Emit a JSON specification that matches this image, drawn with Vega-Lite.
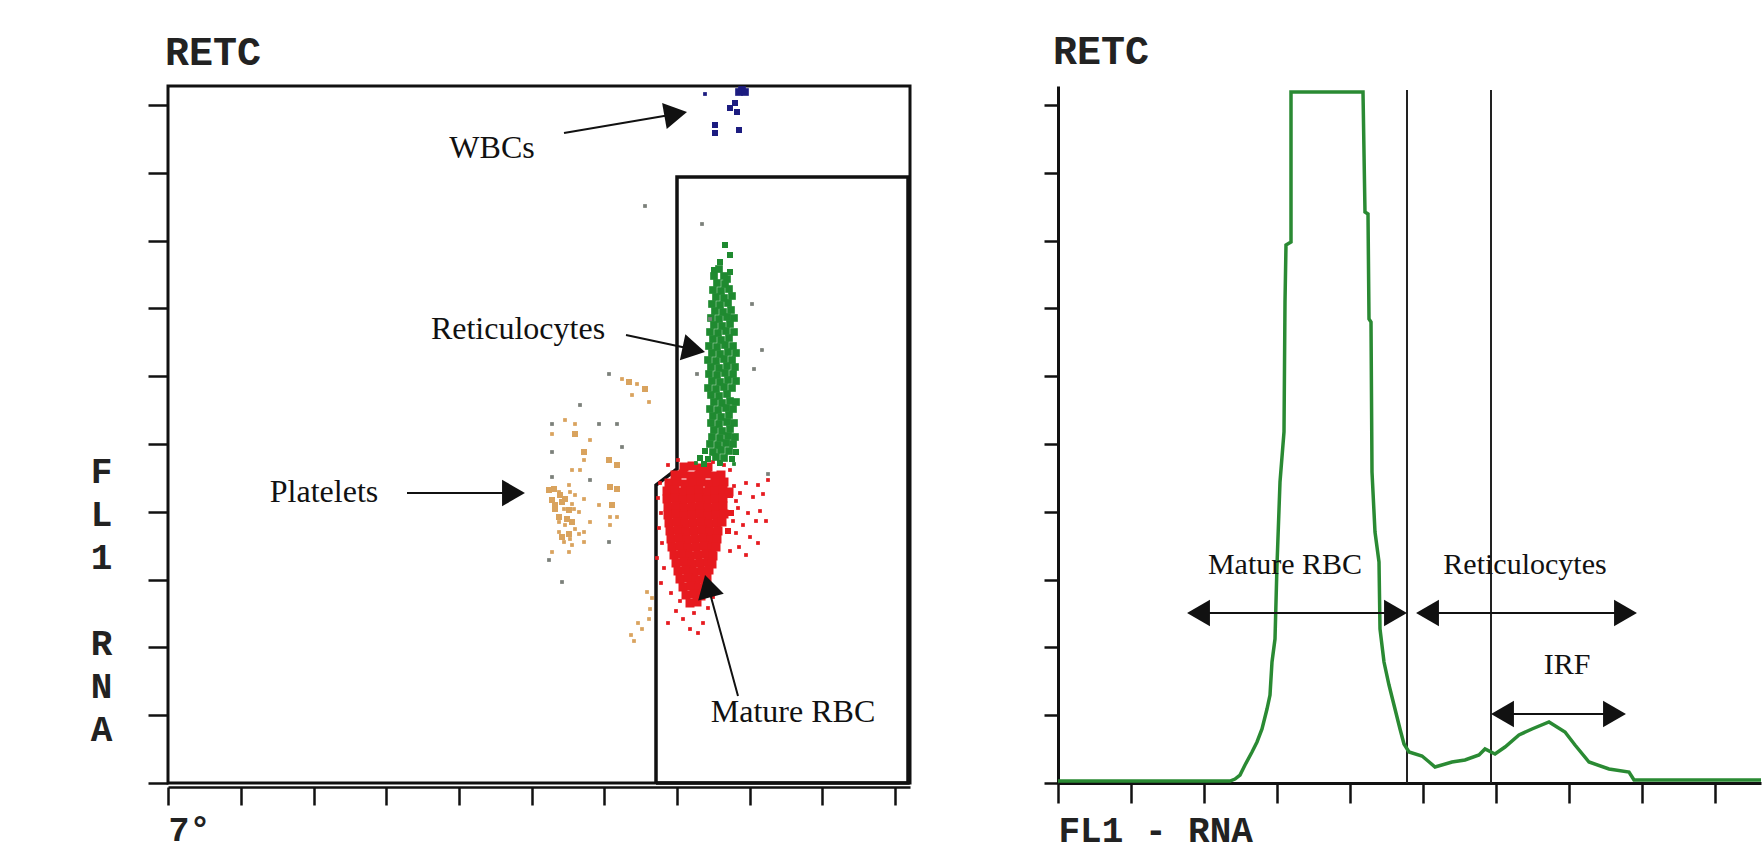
{
  "$schema": "https://vega.github.io/schema/vega-lite/v6.json",
  "background": "white",
  "padding": {"left": 86, "top": 31, "right": 0, "bottom": 6},
  "bounds": "flush",
  "spacing": 148,
  "config": {"view": {"stroke": null}},
  "datasets": {
    "gate": [
      {"i": 0, "x": 488, "y": 0}, {"i": 1, "x": 488, "y": 298}, {"i": 2, "x": 509, "y": 314},
      {"i": 3, "x": 509, "y": 606}, {"i": 4, "x": 740, "y": 606}, {"i": 5, "x": 740, "y": 0}, {"i": 6, "x": 488, "y": 0}
    ],
    "events": [
      {"p":"RBC","x":516,"y":316,"n":4},{"p":"RBC","x":524,"y":317,"n":4},{"p":"RBC","x":532,"y":315,"n":4},{"p":"RBC","x":540,"y":316,"n":4},
      {"p":"RBC","x":507,"y":308,"n":4},{"p":"RBC","x":515,"y":309,"n":4},{"p":"RBC","x":523,"y":307,"n":4},{"p":"RBC","x":531,"y":308,"n":4},{"p":"RBC","x":539,"y":309,"n":4},{"p":"RBC","x":547,"y":307,"n":4},{"p":"RBC","x":553,"y":308,"n":4},
      {"p":"RBC","x":501,"y":300,"n":4},{"p":"RBC","x":509,"y":301,"n":4},{"p":"RBC","x":517,"y":299,"n":4},{"p":"RBC","x":525,"y":300,"n":4},{"p":"RBC","x":533,"y":301,"n":4},{"p":"RBC","x":541,"y":299,"n":4},{"p":"RBC","x":549,"y":300,"n":4},{"p":"RBC","x":556,"y":301,"n":4},
      {"p":"RBC","x":499,"y":292,"n":4},{"p":"RBC","x":507,"y":293,"n":4},{"p":"RBC","x":515,"y":291,"n":4},{"p":"RBC","x":523,"y":292,"n":4},{"p":"RBC","x":531,"y":293,"n":4},{"p":"RBC","x":539,"y":291,"n":4},{"p":"RBC","x":547,"y":292,"n":4},{"p":"RBC","x":555,"y":293,"n":4},{"p":"RBC","x":561,"y":291,"n":4},
      {"p":"RBC","x":499,"y":284,"n":4},{"p":"RBC","x":507,"y":285,"n":4},{"p":"RBC","x":515,"y":283,"n":4},{"p":"RBC","x":523,"y":284,"n":4},{"p":"RBC","x":531,"y":285,"n":4},{"p":"RBC","x":539,"y":283,"n":4},{"p":"RBC","x":547,"y":284,"n":4},{"p":"RBC","x":555,"y":285,"n":4},
      {"p":"RBC","x":500,"y":276,"n":4},{"p":"RBC","x":508,"y":277,"n":4},{"p":"RBC","x":516,"y":275,"n":4},{"p":"RBC","x":524,"y":276,"n":4},{"p":"RBC","x":532,"y":277,"n":4},{"p":"RBC","x":540,"y":275,"n":4},{"p":"RBC","x":548,"y":276,"n":4},{"p":"RBC","x":555,"y":277,"n":4},
      {"p":"RBC","x":500,"y":268,"n":4},{"p":"RBC","x":508,"y":269,"n":4},{"p":"RBC","x":516,"y":267,"n":4},{"p":"RBC","x":524,"y":268,"n":4},{"p":"RBC","x":532,"y":269,"n":4},{"p":"RBC","x":540,"y":267,"n":4},{"p":"RBC","x":548,"y":268,"n":4},{"p":"RBC","x":556,"y":269,"n":4},
      {"p":"RBC","x":501,"y":260,"n":4},{"p":"RBC","x":509,"y":261,"n":4},{"p":"RBC","x":517,"y":259,"n":4},{"p":"RBC","x":525,"y":260,"n":4},{"p":"RBC","x":533,"y":261,"n":4},{"p":"RBC","x":541,"y":259,"n":4},{"p":"RBC","x":549,"y":260,"n":4},{"p":"RBC","x":554,"y":261,"n":4},
      {"p":"RBC","x":502,"y":252,"n":4},{"p":"RBC","x":510,"y":253,"n":4},{"p":"RBC","x":518,"y":251,"n":4},{"p":"RBC","x":526,"y":252,"n":4},{"p":"RBC","x":534,"y":253,"n":4},{"p":"RBC","x":542,"y":251,"n":4},{"p":"RBC","x":550,"y":252,"n":4},
      {"p":"RBC","x":503,"y":244,"n":4},{"p":"RBC","x":511,"y":245,"n":4},{"p":"RBC","x":519,"y":243,"n":4},{"p":"RBC","x":527,"y":244,"n":4},{"p":"RBC","x":535,"y":245,"n":4},{"p":"RBC","x":543,"y":243,"n":4},{"p":"RBC","x":549,"y":244,"n":4},
      {"p":"RBC","x":504,"y":236,"n":4},{"p":"RBC","x":512,"y":237,"n":4},{"p":"RBC","x":520,"y":235,"n":4},{"p":"RBC","x":528,"y":236,"n":4},{"p":"RBC","x":536,"y":237,"n":4},{"p":"RBC","x":544,"y":235,"n":4},{"p":"RBC","x":548,"y":236,"n":4},
      {"p":"RBC","x":506,"y":228,"n":4},{"p":"RBC","x":514,"y":229,"n":4},{"p":"RBC","x":522,"y":227,"n":4},{"p":"RBC","x":530,"y":228,"n":4},{"p":"RBC","x":538,"y":229,"n":4},{"p":"RBC","x":545,"y":227,"n":4},
      {"p":"RBC","x":508,"y":220,"n":4},{"p":"RBC","x":516,"y":221,"n":4},{"p":"RBC","x":524,"y":219,"n":4},{"p":"RBC","x":532,"y":220,"n":4},{"p":"RBC","x":540,"y":221,"n":4},{"p":"RBC","x":544,"y":219,"n":4},
      {"p":"RBC","x":510,"y":212,"n":4},{"p":"RBC","x":518,"y":213,"n":4},{"p":"RBC","x":526,"y":211,"n":4},{"p":"RBC","x":534,"y":212,"n":4},{"p":"RBC","x":541,"y":213,"n":4},
      {"p":"RBC","x":512,"y":204,"n":4},{"p":"RBC","x":520,"y":205,"n":4},{"p":"RBC","x":528,"y":203,"n":4},{"p":"RBC","x":536,"y":204,"n":4},{"p":"RBC","x":539,"y":205,"n":4},
      {"p":"RBC","x":515,"y":196,"n":4},{"p":"RBC","x":523,"y":197,"n":4},{"p":"RBC","x":531,"y":195,"n":4},{"p":"RBC","x":537,"y":196,"n":4},
      {"p":"RBC","x":518,"y":188,"n":4},{"p":"RBC","x":526,"y":189,"n":4},{"p":"RBC","x":533,"y":187,"n":4},
      {"p":"RBC","x":522,"y":180,"n":4},{"p":"RBC","x":529,"y":181,"n":4},
      {"p":"RBC","x":566,"y":297,"n":1},{"p":"RBC","x":578,"y":300,"n":1},{"p":"RBC","x":590,"y":298,"n":1},{"p":"RBC","x":600,"y":303,"n":1},{"p":"RBC","x":572,"y":290,"n":1},{"p":"RBC","x":585,"y":286,"n":1},{"p":"RBC","x":568,"y":282,"n":1},{"p":"RBC","x":595,"y":289,"n":1},{"p":"RBC","x":570,"y":275,"n":1},{"p":"RBC","x":580,"y":270,"n":1},{"p":"RBC","x":592,"y":272,"n":1},{"p":"RBC","x":565,"y":262,"n":1},{"p":"RBC","x":575,"y":258,"n":1},{"p":"RBC","x":588,"y":262,"n":1},{"p":"RBC","x":598,"y":262,"n":1},{"p":"RBC","x":568,"y":250,"n":1},{"p":"RBC","x":582,"y":246,"n":1},{"p":"RBC","x":571,"y":236,"n":1},{"p":"RBC","x":562,"y":232,"n":1},{"p":"RBC","x":590,"y":240,"n":1},{"p":"RBC","x":578,"y":228,"n":1},
      {"p":"RBC","x":562,"y":288,"n":2},{"p":"RBC","x":563,"y":270,"n":2},{"p":"RBC","x":560,"y":252,"n":2},
      {"p":"RBC","x":492,"y":300,"n":1},{"p":"RBC","x":490,"y":285,"n":1},{"p":"RBC","x":493,"y":270,"n":1},{"p":"RBC","x":491,"y":255,"n":1},{"p":"RBC","x":494,"y":240,"n":1},{"p":"RBC","x":489,"y":225,"n":1},{"p":"RBC","x":496,"y":215,"n":1},{"p":"RBC","x":493,"y":200,"n":1},
      {"p":"RBC","x":508,"y":172,"n":1},{"p":"RBC","x":515,"y":164,"n":1},{"p":"RBC","x":526,"y":170,"n":1},{"p":"RBC","x":535,"y":160,"n":1},{"p":"RBC","x":522,"y":154,"n":1},{"p":"RBC","x":540,"y":175,"n":1},{"p":"RBC","x":530,"y":150,"n":1},{"p":"RBC","x":512,"y":182,"n":1},{"p":"RBC","x":545,"y":186,"n":1},{"p":"RBC","x":503,"y":190,"n":1},{"p":"RBC","x":500,"y":160,"n":1},
      {"p":"RBC","x":500,"y":318,"n":1},{"p":"RBC","x":510,"y":323,"n":1},{"p":"RBC","x":545,"y":321,"n":1},{"p":"RBC","x":556,"y":318,"n":1},{"p":"RBC","x":562,"y":313,"n":1},
      {"p":"Retic","x":557,"y":538,"n":2},{"p":"Retic","x":562,"y":528,"n":2},{"p":"Retic","x":552,"y":521,"n":2},{"p":"Retic","x":562,"y":511,"n":2},{"p":"Retic","x":546,"y":513,"n":2},
      {"p":"Retic","x":551,"y":514,"n":3},{"p":"Retic","x":559,"y":504,"n":3},
      {"p":"Retic","x":546,"y":507,"n":3},{"p":"Retic","x":556,"y":507,"n":3},
      {"p":"Retic","x":549,"y":500,"n":3},{"p":"Retic","x":557,"y":499,"n":3},
      {"p":"Retic","x":545,"y":493,"n":3},{"p":"Retic","x":553,"y":492,"n":3},{"p":"Retic","x":561,"y":494,"n":3},
      {"p":"Retic","x":548,"y":486,"n":3},{"p":"Retic","x":556,"y":485,"n":3},{"p":"Retic","x":564,"y":487,"n":3},
      {"p":"Retic","x":544,"y":479,"n":3},{"p":"Retic","x":552,"y":478,"n":3},{"p":"Retic","x":560,"y":480,"n":3},
      {"p":"Retic","x":547,"y":472,"n":3},{"p":"Retic","x":555,"y":471,"n":3},{"p":"Retic","x":563,"y":473,"n":3},
      {"p":"Retic","x":543,"y":465,"n":3},{"p":"Retic","x":551,"y":464,"n":3},{"p":"Retic","x":559,"y":466,"n":3},{"p":"Retic","x":566,"y":465,"n":3},
      {"p":"Retic","x":546,"y":458,"n":3},{"p":"Retic","x":554,"y":457,"n":3},{"p":"Retic","x":562,"y":459,"n":3},
      {"p":"Retic","x":542,"y":451,"n":3},{"p":"Retic","x":550,"y":450,"n":3},{"p":"Retic","x":558,"y":452,"n":3},{"p":"Retic","x":566,"y":451,"n":3},
      {"p":"Retic","x":545,"y":444,"n":3},{"p":"Retic","x":553,"y":443,"n":3},{"p":"Retic","x":561,"y":445,"n":3},
      {"p":"Retic","x":541,"y":437,"n":3},{"p":"Retic","x":549,"y":436,"n":3},{"p":"Retic","x":557,"y":438,"n":3},{"p":"Retic","x":565,"y":437,"n":3},
      {"p":"Retic","x":544,"y":430,"n":3},{"p":"Retic","x":552,"y":429,"n":3},{"p":"Retic","x":560,"y":431,"n":3},{"p":"Retic","x":568,"y":430,"n":3},
      {"p":"Retic","x":540,"y":423,"n":3},{"p":"Retic","x":548,"y":422,"n":3},{"p":"Retic","x":556,"y":424,"n":3},{"p":"Retic","x":564,"y":423,"n":3},
      {"p":"Retic","x":543,"y":416,"n":3},{"p":"Retic","x":551,"y":415,"n":3},{"p":"Retic","x":559,"y":417,"n":3},{"p":"Retic","x":567,"y":416,"n":3},
      {"p":"Retic","x":541,"y":409,"n":3},{"p":"Retic","x":549,"y":408,"n":3},{"p":"Retic","x":557,"y":410,"n":3},{"p":"Retic","x":565,"y":409,"n":3},
      {"p":"Retic","x":544,"y":402,"n":3},{"p":"Retic","x":552,"y":401,"n":3},{"p":"Retic","x":560,"y":403,"n":3},{"p":"Retic","x":568,"y":402,"n":3},
      {"p":"Retic","x":540,"y":395,"n":3},{"p":"Retic","x":548,"y":394,"n":3},{"p":"Retic","x":556,"y":396,"n":3},{"p":"Retic","x":564,"y":395,"n":3},
      {"p":"Retic","x":543,"y":388,"n":3},{"p":"Retic","x":551,"y":387,"n":3},{"p":"Retic","x":559,"y":389,"n":3},
      {"p":"Retic","x":546,"y":381,"n":3},{"p":"Retic","x":554,"y":380,"n":3},{"p":"Retic","x":562,"y":382,"n":3},{"p":"Retic","x":568,"y":381,"n":3},
      {"p":"Retic","x":542,"y":374,"n":3},{"p":"Retic","x":550,"y":373,"n":3},{"p":"Retic","x":558,"y":375,"n":3},{"p":"Retic","x":565,"y":374,"n":3},
      {"p":"Retic","x":545,"y":367,"n":3},{"p":"Retic","x":553,"y":366,"n":3},{"p":"Retic","x":561,"y":368,"n":3},
      {"p":"Retic","x":543,"y":360,"n":3},{"p":"Retic","x":551,"y":359,"n":3},{"p":"Retic","x":559,"y":361,"n":3},{"p":"Retic","x":566,"y":360,"n":3},
      {"p":"Retic","x":546,"y":353,"n":3},{"p":"Retic","x":554,"y":352,"n":3},{"p":"Retic","x":562,"y":354,"n":3},
      {"p":"Retic","x":544,"y":346,"n":3},{"p":"Retic","x":552,"y":345,"n":3},{"p":"Retic","x":560,"y":347,"n":3},{"p":"Retic","x":567,"y":346,"n":3},
      {"p":"Retic","x":542,"y":339,"n":3},{"p":"Retic","x":550,"y":338,"n":3},{"p":"Retic","x":558,"y":340,"n":3},{"p":"Retic","x":565,"y":339,"n":3},
      {"p":"Retic","x":537,"y":332,"n":2},{"p":"Retic","x":545,"y":331,"n":3},{"p":"Retic","x":553,"y":333,"n":3},{"p":"Retic","x":561,"y":332,"n":3},{"p":"Retic","x":568,"y":331,"n":2},
      {"p":"Retic","x":532,"y":325,"n":2},{"p":"Retic","x":540,"y":324,"n":2},{"p":"Retic","x":548,"y":326,"n":3},{"p":"Retic","x":556,"y":325,"n":3},{"p":"Retic","x":564,"y":324,"n":2},
      {"p":"Retic","x":528,"y":320,"n":1},{"p":"Retic","x":536,"y":319,"n":2},{"p":"Retic","x":552,"y":320,"n":2},{"p":"Retic","x":566,"y":319,"n":1},
      {"p":"WBC","x":571,"y":691,"n":3},{"p":"WBC","x":574,"y":693,"n":3},{"p":"WBC","x":577,"y":691,"n":3},{"p":"WBC","x":537,"y":689,"n":1},{"p":"WBC","x":567,"y":680,"n":2},{"p":"WBC","x":562,"y":675,"n":2},{"p":"WBC","x":569,"y":671,"n":2},{"p":"WBC","x":547,"y":658,"n":2},{"p":"WBC","x":547,"y":650,"n":2},{"p":"WBC","x":571,"y":653,"n":2},
      {"p":"Other","x":534,"y":559,"n":1},{"p":"Other","x":584,"y":479,"n":1},{"p":"Other","x":594,"y":433,"n":1},{"p":"Other","x":586,"y":414,"n":1},{"p":"Other","x":529,"y":409,"n":1},{"p":"Other","x":542,"y":464,"n":1},{"p":"Other","x":477,"y":577,"n":1},{"p":"Other","x":600,"y":309,"n":1},
      {"p":"Other","x":412,"y":378,"n":1},{"p":"Other","x":384,"y":359,"n":1},{"p":"Other","x":431,"y":359,"n":1},{"p":"Other","x":449,"y":359,"n":1},{"p":"Other","x":384,"y":331,"n":1},{"p":"Other","x":454,"y":336,"n":1},{"p":"Other","x":422,"y":303,"n":1},{"p":"Other","x":384,"y":306,"n":1},{"p":"Other","x":381,"y":223,"n":1},{"p":"Other","x":394,"y":201,"n":1},{"p":"Other","x":441,"y":241,"n":1},{"p":"Other","x":441,"y":409,"n":1},
      {"p":"PLT","x":454,"y":404,"n":1},{"p":"PLT","x":461,"y":401,"n":2},{"p":"PLT","x":469,"y":399,"n":1},{"p":"PLT","x":477,"y":394,"n":2},{"p":"PLT","x":464,"y":388,"n":1},{"p":"PLT","x":481,"y":381,"n":1},
      {"p":"PLT","x":397,"y":363,"n":1},{"p":"PLT","x":407,"y":359,"n":1},{"p":"PLT","x":384,"y":349,"n":1},{"p":"PLT","x":407,"y":349,"n":2},{"p":"PLT","x":422,"y":343,"n":1},{"p":"PLT","x":416,"y":331,"n":2},
      {"p":"PLT","x":441,"y":323,"n":2},{"p":"PLT","x":449,"y":318,"n":2},{"p":"PLT","x":416,"y":323,"n":1},{"p":"PLT","x":404,"y":313,"n":1},{"p":"PLT","x":412,"y":313,"n":1},
      {"p":"PLT","x":442,"y":296,"n":2},{"p":"PLT","x":449,"y":294,"n":2},{"p":"PLT","x":381,"y":293,"n":2},{"p":"PLT","x":391,"y":291,"n":1},{"p":"PLT","x":401,"y":298,"n":1},{"p":"PLT","x":407,"y":288,"n":1},
      {"p":"PLT","x":384,"y":283,"n":2},{"p":"PLT","x":394,"y":281,"n":2},{"p":"PLT","x":404,"y":279,"n":1},{"p":"PLT","x":416,"y":284,"n":1},{"p":"PLT","x":431,"y":278,"n":1},{"p":"PLT","x":444,"y":278,"n":2},
      {"p":"PLT","x":387,"y":274,"n":2},{"p":"PLT","x":401,"y":273,"n":2},{"p":"PLT","x":411,"y":271,"n":1},{"p":"PLT","x":422,"y":261,"n":1},{"p":"PLT","x":442,"y":266,"n":1},{"p":"PLT","x":449,"y":266,"n":1},
      {"p":"PLT","x":391,"y":266,"n":2},{"p":"PLT","x":397,"y":258,"n":1},{"p":"PLT","x":404,"y":261,"n":2},{"p":"PLT","x":442,"y":258,"n":1},{"p":"PLT","x":391,"y":251,"n":1},{"p":"PLT","x":401,"y":249,"n":2},
      {"p":"PLT","x":416,"y":251,"n":1},{"p":"PLT","x":396,"y":241,"n":1},{"p":"PLT","x":404,"y":238,"n":1},{"p":"PLT","x":416,"y":241,"n":1},{"p":"PLT","x":384,"y":231,"n":1},{"p":"PLT","x":401,"y":231,"n":1},
      {"p":"PLT","x":386,"y":294,"n":2},{"p":"PLT","x":392,"y":288,"n":2},{"p":"PLT","x":397,"y":284,"n":2},{"p":"PLT","x":402,"y":291,"n":1},{"p":"PLT","x":387,"y":278,"n":2},{"p":"PLT","x":396,"y":274,"n":1},
      {"p":"PLT","x":406,"y":274,"n":1},{"p":"PLT","x":391,"y":261,"n":1},{"p":"PLT","x":399,"y":264,"n":2},{"p":"PLT","x":407,"y":254,"n":1},{"p":"PLT","x":394,"y":246,"n":2},{"p":"PLT","x":402,"y":244,"n":1},{"p":"PLT","x":411,"y":249,"n":1},
      {"p":"PLT","x":479,"y":191,"n":1},{"p":"PLT","x":482,"y":174,"n":1},{"p":"PLT","x":481,"y":164,"n":1},{"p":"PLT","x":474,"y":154,"n":1},{"p":"PLT","x":463,"y":148,"n":1},{"p":"PLT","x":484,"y":185,"n":1},{"p":"PLT","x":470,"y":160,"n":1},{"p":"PLT","x":466,"y":142,"n":1}
    ],
    "leftArrows": [
      {"x": 396, "y": 650, "x2": 507.7, "y2": 669},
      {"x": 458, "y": 448, "x2": 525.8, "y2": 433.4},
      {"x": 239, "y": 290, "x2": 345.5, "y2": 290},
      {"x": 570, "y": 87, "x2": 540, "y2": 197}
    ],
    "leftLabels": [
      {"x": 324, "y": 635, "label": "WBCs"},
      {"x": 350, "y": 454, "label": "Reticulocytes"},
      {"x": 156, "y": 291, "label": "Platelets"},
      {"x": 625, "y": 71, "label": "Mature RBC"}
    ],
    "hist": [
      {"i":0,"x":0,"y":2},{"i":1,"x":172,"y":2},{"i":2,"x":177,"y":4},{"i":3,"x":182,"y":8},{"i":4,"x":187,"y":18},
      {"i":5,"x":194,"y":31},{"i":6,"x":199,"y":41},{"i":7,"x":204,"y":54},{"i":8,"x":209,"y":74},{"i":9,"x":212,"y":88},
      {"i":10,"x":214,"y":121},{"i":11,"x":217,"y":144},{"i":12,"x":219,"y":218},{"i":13,"x":222,"y":301},{"i":14,"x":226,"y":351},
      {"i":15,"x":227,"y":481},{"i":16,"x":228,"y":538},{"i":17,"x":233,"y":541},{"i":18,"x":233,"y":691},{"i":19,"x":305,"y":691},
      {"i":20,"x":307,"y":571},{"i":21,"x":310,"y":569},{"i":22,"x":311,"y":464},{"i":23,"x":313,"y":461},{"i":24,"x":314,"y":311},
      {"i":25,"x":317,"y":251},{"i":26,"x":321,"y":221},{"i":27,"x":322,"y":154},{"i":28,"x":326,"y":121},{"i":29,"x":331,"y":98},
      {"i":30,"x":337,"y":74},{"i":31,"x":342,"y":54},{"i":32,"x":346,"y":39},{"i":33,"x":351,"y":31},{"i":34,"x":364,"y":27},
      {"i":35,"x":370,"y":22},{"i":36,"x":377,"y":16},{"i":37,"x":394,"y":21},{"i":38,"x":407,"y":23},{"i":39,"x":421,"y":28},
      {"i":40,"x":427,"y":34},{"i":41,"x":437,"y":29},{"i":42,"x":447,"y":36},{"i":43,"x":461,"y":48},{"i":44,"x":474,"y":54},
      {"i":45,"x":491,"y":61},{"i":46,"x":507,"y":51},{"i":47,"x":517,"y":38},{"i":48,"x":531,"y":21},{"i":49,"x":551,"y":14},
      {"i":50,"x":571,"y":11},{"i":51,"x":576,"y":3},{"i":52,"x":703,"y":3}
    ],
    "gates": [
      {"x": 349, "y": 0, "y2": 693},
      {"x": 433, "y": 0, "y2": 693}
    ],
    "rightArrows": [
      {"x": 140.5, "x2": 337.5, "y": 170},
      {"x": 369.5, "x2": 567.5, "y": 170},
      {"x": 444.5, "x2": 556.5, "y": 69}
    ],
    "headsLeftward": [
      {"x": 140.5, "y": 170}, {"x": 369.5, "y": 170}, {"x": 444.5, "y": 69}
    ],
    "headsRightward": [
      {"x": 337.5, "y": 170}, {"x": 567.5, "y": 170}, {"x": 556.5, "y": 69}
    ],
    "rightLabels": [
      {"x": 227, "y": 218, "label": "Mature RBC"},
      {"x": 467, "y": 218, "label": "Reticulocytes"},
      {"x": 509, "y": 118, "label": "IRF"}
    ]
  },
  "hconcat": [
    {
      "width": 742,
      "height": 697,
      "view": {"stroke": "#111111", "strokeWidth": 3},
      "title": {"text": "RETC", "anchor": "start", "frame": "group", "font": "Liberation Mono", "fontSize": 40, "fontWeight": "bold", "color": "#222222", "offset": 13, "baseline": "top", "dx": -3},
      "encoding": {
        "x": {"field": "x", "type": "quantitative", "scale": {"domain": [0, 742], "nice": false, "zero": false},
          "axis": {"values": [0, 73, 146, 218, 291, 364, 436, 509, 582, 654, 727], "labels": false, "grid": false, "tickSize": 18, "tickWidth": 2.5, "tickColor": "#111111", "domainColor": "#111111", "domainWidth": 2.5, "offset": 4,
            "title": "7°", "titleFont": "Liberation Mono", "titleFontSize": 35, "titleFontWeight": "bold", "titleColor": "#222222", "titleAlign": "left", "titleBaseline": "middle", "titleX": 0, "titleY": 42, "titleAngle": 0}},
        "y": {"field": "y", "type": "quantitative", "scale": {"domain": [0, 697], "nice": false, "zero": false},
          "axis": {"values": [0, 68, 136, 203, 271, 339, 407, 475, 542, 610, 678], "labels": false, "grid": false, "domain": false, "tickSize": 20, "tickWidth": 2.5, "tickColor": "#111111",
            "title": ["F", "L", "1", "\u2800", "R", "N", "A"], "titleFont": "Liberation Mono", "titleFontSize": 36, "titleFontWeight": "bold", "titleColor": "#222222", "titleAngle": 0, "titleAlign": "center", "titleBaseline": "top", "titleLineHeight": 43, "titleX": -67, "titleY": 368}}
      },
      "layer": [
        {"data": {"name": "gate"}, "mark": {"type": "line", "color": "#111111", "strokeWidth": 3.5, "strokeJoin": "miter"}, "encoding": {"order": {"field": "i", "type": "quantitative"}}},
        {"data": {"name": "events"}, "mark": {"type": "point", "shape": "square", "filled": true, "opacity": 1},
          "encoding": {
            "color": {"field": "p", "type": "nominal", "scale": {"domain": ["RBC", "Retic", "PLT", "WBC", "Other"], "range": ["#e61a1f", "#1f8a30", "#d9a35e", "#1c1c80", "#7b807a"]}, "legend": null},
            "size": {"field": "n", "type": "quantitative", "scale": {"domain": [1, 4], "range": [14, 81]}, "legend": null}
          }},
        {"data": {"name": "leftArrows"}, "mark": {"type": "rule", "color": "#111111", "strokeWidth": 2}, "encoding": {"x2": {"field": "x2"}, "y2": {"field": "y2"}}},
        {"data": {"values": [{"x": 507.7, "y": 669}]}, "mark": {"type": "point", "shape": "triangle-right", "filled": true, "color": "#111111", "opacity": 1, "size": 700, "angle": -10}},
        {"data": {"values": [{"x": 525.8, "y": 433.4}]}, "mark": {"type": "point", "shape": "triangle-right", "filled": true, "color": "#111111", "opacity": 1, "size": 700, "angle": 12}},
        {"data": {"values": [{"x": 345.5, "y": 290}]}, "mark": {"type": "point", "shape": "triangle-right", "filled": true, "color": "#111111", "opacity": 1, "size": 700}},
        {"data": {"values": [{"x": 540, "y": 197}]}, "mark": {"type": "point", "shape": "triangle-up", "filled": true, "color": "#111111", "opacity": 1, "size": 700, "angle": -15}},
        {"data": {"name": "leftLabels"}, "mark": {"type": "text", "font": "Liberation Serif", "fontSize": 32, "align": "center", "baseline": "middle", "color": "#111111"}, "encoding": {"text": {"field": "label"}}}
      ]
    },
    {
      "width": 703,
      "height": 697,
      "title": {"text": "RETC", "anchor": "start", "frame": "group", "font": "Liberation Mono", "fontSize": 40, "fontWeight": "bold", "color": "#222222", "offset": 13, "baseline": "top", "dx": -5},
      "encoding": {
        "x": {"field": "x", "type": "quantitative", "scale": {"domain": [0, 703], "nice": false, "zero": false},
          "axis": {"values": [0, 73, 146, 219, 292, 365, 438, 511, 584, 657], "labels": false, "grid": false, "tickSize": 20, "tickWidth": 2.5, "tickColor": "#111111", "domainColor": "#111111", "domainWidth": 3,
            "title": "FL1 - RNA", "titleFont": "Liberation Mono", "titleFontSize": 36, "titleFontWeight": "bold", "titleColor": "#222222", "titleAlign": "left", "titleBaseline": "middle", "titleX": 0, "titleY": 47, "titleAngle": 0}},
        "y": {"field": "y", "type": "quantitative", "scale": {"domain": [0, 697], "nice": false, "zero": false},
          "axis": {"values": [0, 68, 136, 203, 271, 339, 407, 475, 542, 610, 678], "labels": false, "grid": false, "tickSize": 14, "tickWidth": 2.5, "tickColor": "#111111", "domainColor": "#111111", "domainWidth": 3, "title": null}}
      },
      "layer": [
        {"data": {"name": "gates"}, "mark": {"type": "rule", "color": "#222222", "strokeWidth": 2}, "encoding": {"y2": {"field": "y2"}}},
        {"data": {"name": "hist"}, "mark": {"type": "line", "color": "#2a8a33", "strokeWidth": 3.5, "strokeJoin": "miter"}, "encoding": {"order": {"field": "i", "type": "quantitative"}}},
        {"data": {"name": "rightArrows"}, "mark": {"type": "rule", "color": "#111111", "strokeWidth": 2}, "encoding": {"x2": {"field": "x2"}}},
        {"data": {"name": "headsLeftward"}, "mark": {"type": "point", "shape": "triangle-left", "filled": true, "color": "#111111", "opacity": 1, "size": 700}},
        {"data": {"name": "headsRightward"}, "mark": {"type": "point", "shape": "triangle-right", "filled": true, "color": "#111111", "opacity": 1, "size": 700}},
        {"data": {"name": "rightLabels"}, "mark": {"type": "text", "font": "Liberation Serif", "fontSize": 30, "align": "center", "baseline": "middle", "color": "#111111"}, "encoding": {"text": {"field": "label"}}}
      ]
    }
  ]
}
